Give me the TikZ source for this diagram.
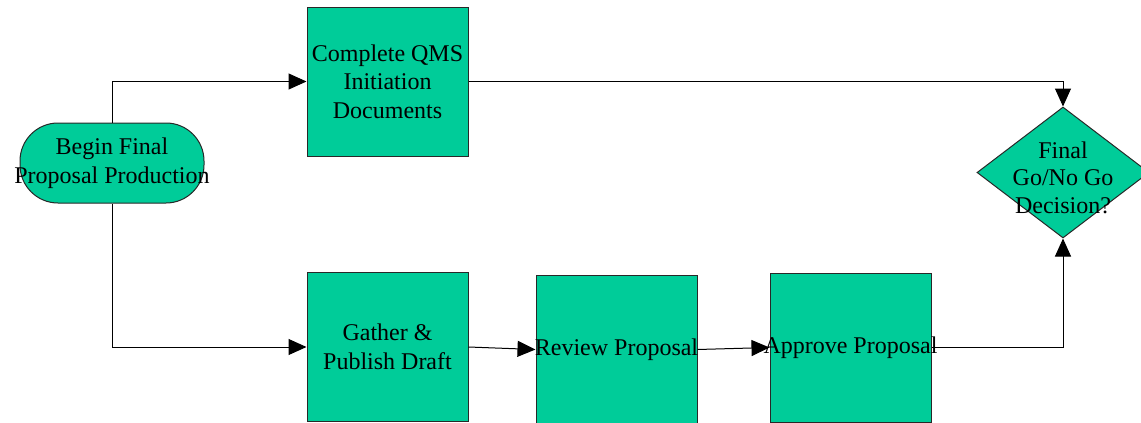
\documentclass[tikz,border=0pt]{standalone}
\usepackage{fontspec}
\setmainfont{Liberation Serif}
\usetikzlibrary{arrows.meta,shapes.geometric}
\definecolor{boxfill}{RGB}{0,204,153}
\definecolor{boxline}{RGB}{40,40,40}
\begin{document}
\begin{tikzpicture}[x=1pt,y=-1pt,
  txt/.style={font=\fontsize{24}{28.5}\selectfont,align=center},
  boxtext/.style={label={[txt]center:#1}},
  procbox/.style={draw=boxline,fill=boxfill,line width=1pt,minimum width=161pt,minimum height=149pt,inner sep=0pt},
  startbox/.style={draw=boxline,fill=boxfill,line width=1pt,rounded corners=38pt,minimum width=184pt,minimum height=80pt,inner sep=0pt},
  decbox/.style={draw=boxline,fill=boxfill,line width=1pt,diamond,minimum width=172pt,minimum height=131pt,inner sep=0pt},
  flow/.style={draw=black,line width=1pt,-{Triangle[length=18pt,width=16pt]}}
]
\useasboundingbox (0,0) rectangle (1141,423);

% process steps (text set as centred labels so it may overhang the shapes)
\node[startbox,boxtext={Begin Final\\Proposal Production}] (begin) at (112,163) {};
\node[procbox,boxtext={Complete QMS\\Initiation\\Documents}] (qms) at (387.5,81.5) {};
\node[procbox,boxtext={Gather \&\\Publish Draft}] (gather) at (387.5,347) {};
\node[procbox,boxtext={Review Proposal}] (review) at (616.5,349.5) {};
\node[procbox,boxtext={Approve Proposal}] (approve) at (850.5,347.5) {};
\node[decbox,label={[txt,font=\fontsize{24}{27.5}\selectfont,yshift=-5pt]center:Final\\Go/No Go\\Decision?}] (dec) at (1063,172.5) {};

% connectors
\draw[flow] (begin.north) |- (qms.west);
\draw[flow] (begin.south) |- (gather.west);
\draw[flow] (gather.east) -- (review.west);
\draw[flow] (review.east) -- (approve.west);
\draw[flow] (approve.east) -| (dec.south);
\draw[flow] (qms.east) -| (dec.north);
\end{tikzpicture}
\end{document}
